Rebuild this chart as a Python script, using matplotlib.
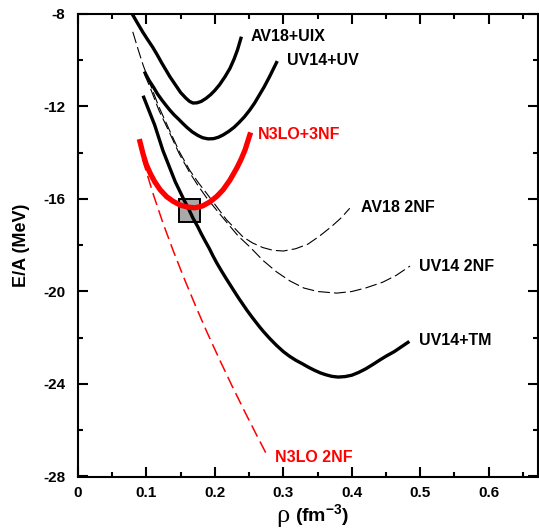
import matplotlib
matplotlib.use('Agg')
import matplotlib.pyplot as plt
from matplotlib.patches import Rectangle
from matplotlib.ticker import MultipleLocator

plt.rcParams['font.family'] = ['Liberation Sans', 'DejaVu Sans']
plt.rcParams['font.weight'] = 'bold'
plt.rcParams['mathtext.fontset'] = 'custom'
plt.rcParams['mathtext.rm'] = 'Liberation Sans:bold'
plt.rcParams['mathtext.bf'] = 'Liberation Sans:bold'
plt.rcParams['lines.scale_dashes'] = False
plt.rcParams['lines.solid_joinstyle'] = 'round'

# Data (density in fm^-3, E/A in MeV)
av18_uix_x = [0.080, 0.088, 0.095, 0.102, 0.109, 0.116, 0.122, 0.128, 0.134, 0.142, 0.150, 0.158,
              0.163, 0.168, 0.174, 0.180, 0.187, 0.194, 0.200, 0.207, 0.215, 0.222, 0.228, 0.233, 0.238]
av18_uix_y = [-8.04, -8.45, -8.8, -9.12, -9.43, -9.78, -10.1, -10.4, -10.7, -11.05, -11.4, -11.65,
              -11.78, -11.85, -11.84, -11.78, -11.65, -11.48, -11.3, -11.05, -10.7, -10.35, -9.95, -9.55, -9.05]

uv14_uv_x = [0.098, 0.104, 0.110, 0.116, 0.122, 0.128, 0.134, 0.140, 0.147, 0.153, 0.159, 0.167,
             0.175, 0.182, 0.190, 0.198, 0.205, 0.212, 0.220, 0.228, 0.235, 0.243, 0.251, 0.258,
             0.265, 0.272, 0.280, 0.285, 0.290]
uv14_uv_y = [-10.55, -10.88, -11.15, -11.45, -11.7, -11.93, -12.15, -12.35, -12.55, -12.73, -12.9, -13.1,
             -13.25, -13.35, -13.4, -13.39, -13.33, -13.23, -13.08, -12.9, -12.7, -12.45, -12.15, -11.85,
             -11.5, -11.15, -10.7, -10.4, -10.1]

n3lo_3nf_x = [0.0905, 0.095, 0.100, 0.106, 0.112, 0.120, 0.1295, 0.139, 0.149, 0.160, 0.171, 0.182,
              0.193, 0.203, 0.212, 0.222, 0.232, 0.238, 0.244, 0.251]
n3lo_3nf_y = [-13.52, -14.05, -14.53, -14.92, -15.25, -15.6, -15.9, -16.1, -16.26, -16.35, -16.38, -16.3,
              -16.12, -15.88, -15.6, -15.18, -14.66, -14.3, -13.88, -13.23]

uv14_tm_x = [0.096, 0.100, 0.104, 0.108, 0.112, 0.118, 0.124, 0.130, 0.136, 0.142, 0.149, 0.155,
             0.162, 0.168, 0.175, 0.180, 0.186, 0.192, 0.197, 0.203, 0.210, 0.216, 0.222, 0.228,
             0.235, 0.241, 0.247, 0.254, 0.260, 0.265, 0.270, 0.280, 0.290, 0.300, 0.309, 0.318,
             0.328, 0.337, 0.345, 0.354, 0.362, 0.371, 0.380, 0.390, 0.400, 0.410, 0.420, 0.430,
             0.441, 0.451, 0.462, 0.472, 0.482]
uv14_tm_y = [-11.6, -11.9, -12.2, -12.5, -12.8, -13.35, -13.9, -14.35, -14.8, -15.25, -15.68, -16.05,
             -16.45, -16.83, -17.2, -17.5, -17.83, -18.15, -18.45, -18.78, -19.13, -19.42, -19.7, -19.98,
             -20.3, -20.56, -20.82, -21.1, -21.33, -21.52, -21.7, -22.03, -22.33, -22.6, -22.8, -22.97,
             -23.13, -23.28, -23.4, -23.52, -23.6, -23.67, -23.7, -23.68, -23.62, -23.5, -23.35, -23.17,
             -22.96, -22.78, -22.6, -22.4, -22.2]

av18_2nf_x = [0.080, 0.088, 0.095, 0.105, 0.118, 0.134, 0.148, 0.163, 0.176, 0.188, 0.203, 0.217,
              0.230, 0.241, 0.255, 0.270, 0.285, 0.300, 0.318, 0.336, 0.353, 0.370, 0.385, 0.397]
av18_2nf_y = [-8.77, -9.55, -10.2, -11.0, -12.0, -13.05, -13.95, -14.75, -15.3, -15.76, -16.35, -16.9,
              -17.3, -17.64, -17.9, -18.1, -18.22, -18.25, -18.15, -17.95, -17.6, -17.2, -16.8, -16.4]

uv14_2nf_x = [0.097, 0.105, 0.118, 0.134, 0.148, 0.163, 0.176, 0.188, 0.203, 0.217, 0.234, 0.251,
              0.270, 0.290, 0.310, 0.330, 0.350, 0.378, 0.400, 0.420, 0.445, 0.465, 0.485]
uv14_2nf_y = [-10.6, -11.15, -12.15, -13.15, -14.05, -14.85, -15.45, -15.95, -16.5, -17.0, -17.6, -18.07,
              -18.65, -19.15, -19.55, -19.85, -20.0, -20.07, -20.0, -19.85, -19.6, -19.3, -18.9]

n3lo_2nf_x = [0.094, 0.110, 0.124, 0.139, 0.155, 0.172, 0.188, 0.207, 0.225, 0.245, 0.262, 0.276]
n3lo_2nf_y = [-14.25, -15.8, -17.03, -18.23, -19.43, -20.64, -21.73, -22.96, -24.08, -25.28, -26.27, -27.07]

# empirical saturation region
box_x = [0.147, 0.178]
box_y = [-17.0, -16.0]

labels = ['AV18+UIX', 'UV14+UV', 'N3LO+3NF', 'AV18 2NF', 'UV14 2NF', 'UV14+TM', 'N3LO 2NF']
label_x = [0.252, 0.305, 0.263, 0.413, 0.498, 0.498, 0.2876]
label_y = [-8.98, -10.02, -13.19, -16.36, -18.93, -22.14, -27.17]
label_col = ['black', 'black', 'red', 'black', 'black', 'black', 'red']

fig = plt.figure(figsize=(5.39, 5.31), dpi=100)
ax = fig.add_axes([78 / 539, 1 - 476.5 / 531, 460 / 539, 462.5 / 531])

ax.add_patch(Rectangle((box_x[0], box_y[0]), box_x[1] - box_x[0], box_y[1] - box_y[0],
                       facecolor='#a9a9a9', edgecolor='black', lw=1.4, zorder=1))

ax.plot(av18_2nf_x, av18_2nf_y, color='black', lw=0.8, dashes=(8.5, 3), zorder=2)
ax.plot(uv14_2nf_x, uv14_2nf_y, color='black', lw=0.8, dashes=(8.5, 3), zorder=2)
ax.plot(n3lo_2nf_x, n3lo_2nf_y, color='red', lw=1.1, dashes=(9, 4), zorder=2)
ax.plot(av18_uix_x, av18_uix_y, color='black', lw=2.4, zorder=3)
ax.plot(uv14_uv_x, uv14_uv_y, color='black', lw=2.4, zorder=3)
ax.plot(uv14_tm_x, uv14_tm_y, color='black', lw=2.4, zorder=3)
ax.plot(n3lo_3nf_x, n3lo_3nf_y, color='red', lw=3.8, zorder=4)

for t, x, y, c in zip(labels, label_x, label_y, label_col):
    ax.text(x, y, t, color=c, fontsize=11.5, fontweight='bold', ha='left', va='center')

ax.set_xlim(0, 0.672)
ax.set_ylim(-28, -8)
ax.xaxis.set_minor_locator(MultipleLocator(0.05))
ax.yaxis.set_minor_locator(MultipleLocator(2))
ax.set_xticks([0, 0.1, 0.2, 0.3, 0.4, 0.5, 0.6])
ax.set_xticklabels(['0', '0.1', '0.2', '0.3', '0.4', '0.5', '0.6'])
ax.set_yticks([-28, -24, -20, -16, -12, -8])
ax.set_yticklabels(['-28', '-24', '-20', '-16', '-12', '-8'])

ax.tick_params(which='both', direction='in', top=True, right=True, width=1.5)
ax.tick_params(which='major', length=7.2, labelsize=11)
ax.tick_params(which='minor', length=3.8)
ax.tick_params(axis='y', which='major', pad=9)
ax.tick_params(axis='x', which='major', pad=7)
for lab in ax.get_xticklabels() + ax.get_yticklabels():
    lab.set_fontweight('bold')
for s in ax.spines.values():
    s.set_linewidth(1.5)

ax.set_ylabel('E/A (MeV)', fontsize=13, fontweight='bold')
ax.yaxis.set_label_coords(-0.105, 0.5)

# x label: serif rho followed by bold sans units
fig.text(290 / 539, 1 - 522 / 531, '\u03c1', family='Liberation Serif', fontsize=19,
         fontweight='normal', ha='right', va='baseline')
fig.text(295 / 539, 1 - 522 / 531, r'(fm$^{\mathbf{-3}}$)', fontsize=14, fontweight='bold',
         ha='left', va='baseline')

fig.savefig('out.png', dpi=100)
